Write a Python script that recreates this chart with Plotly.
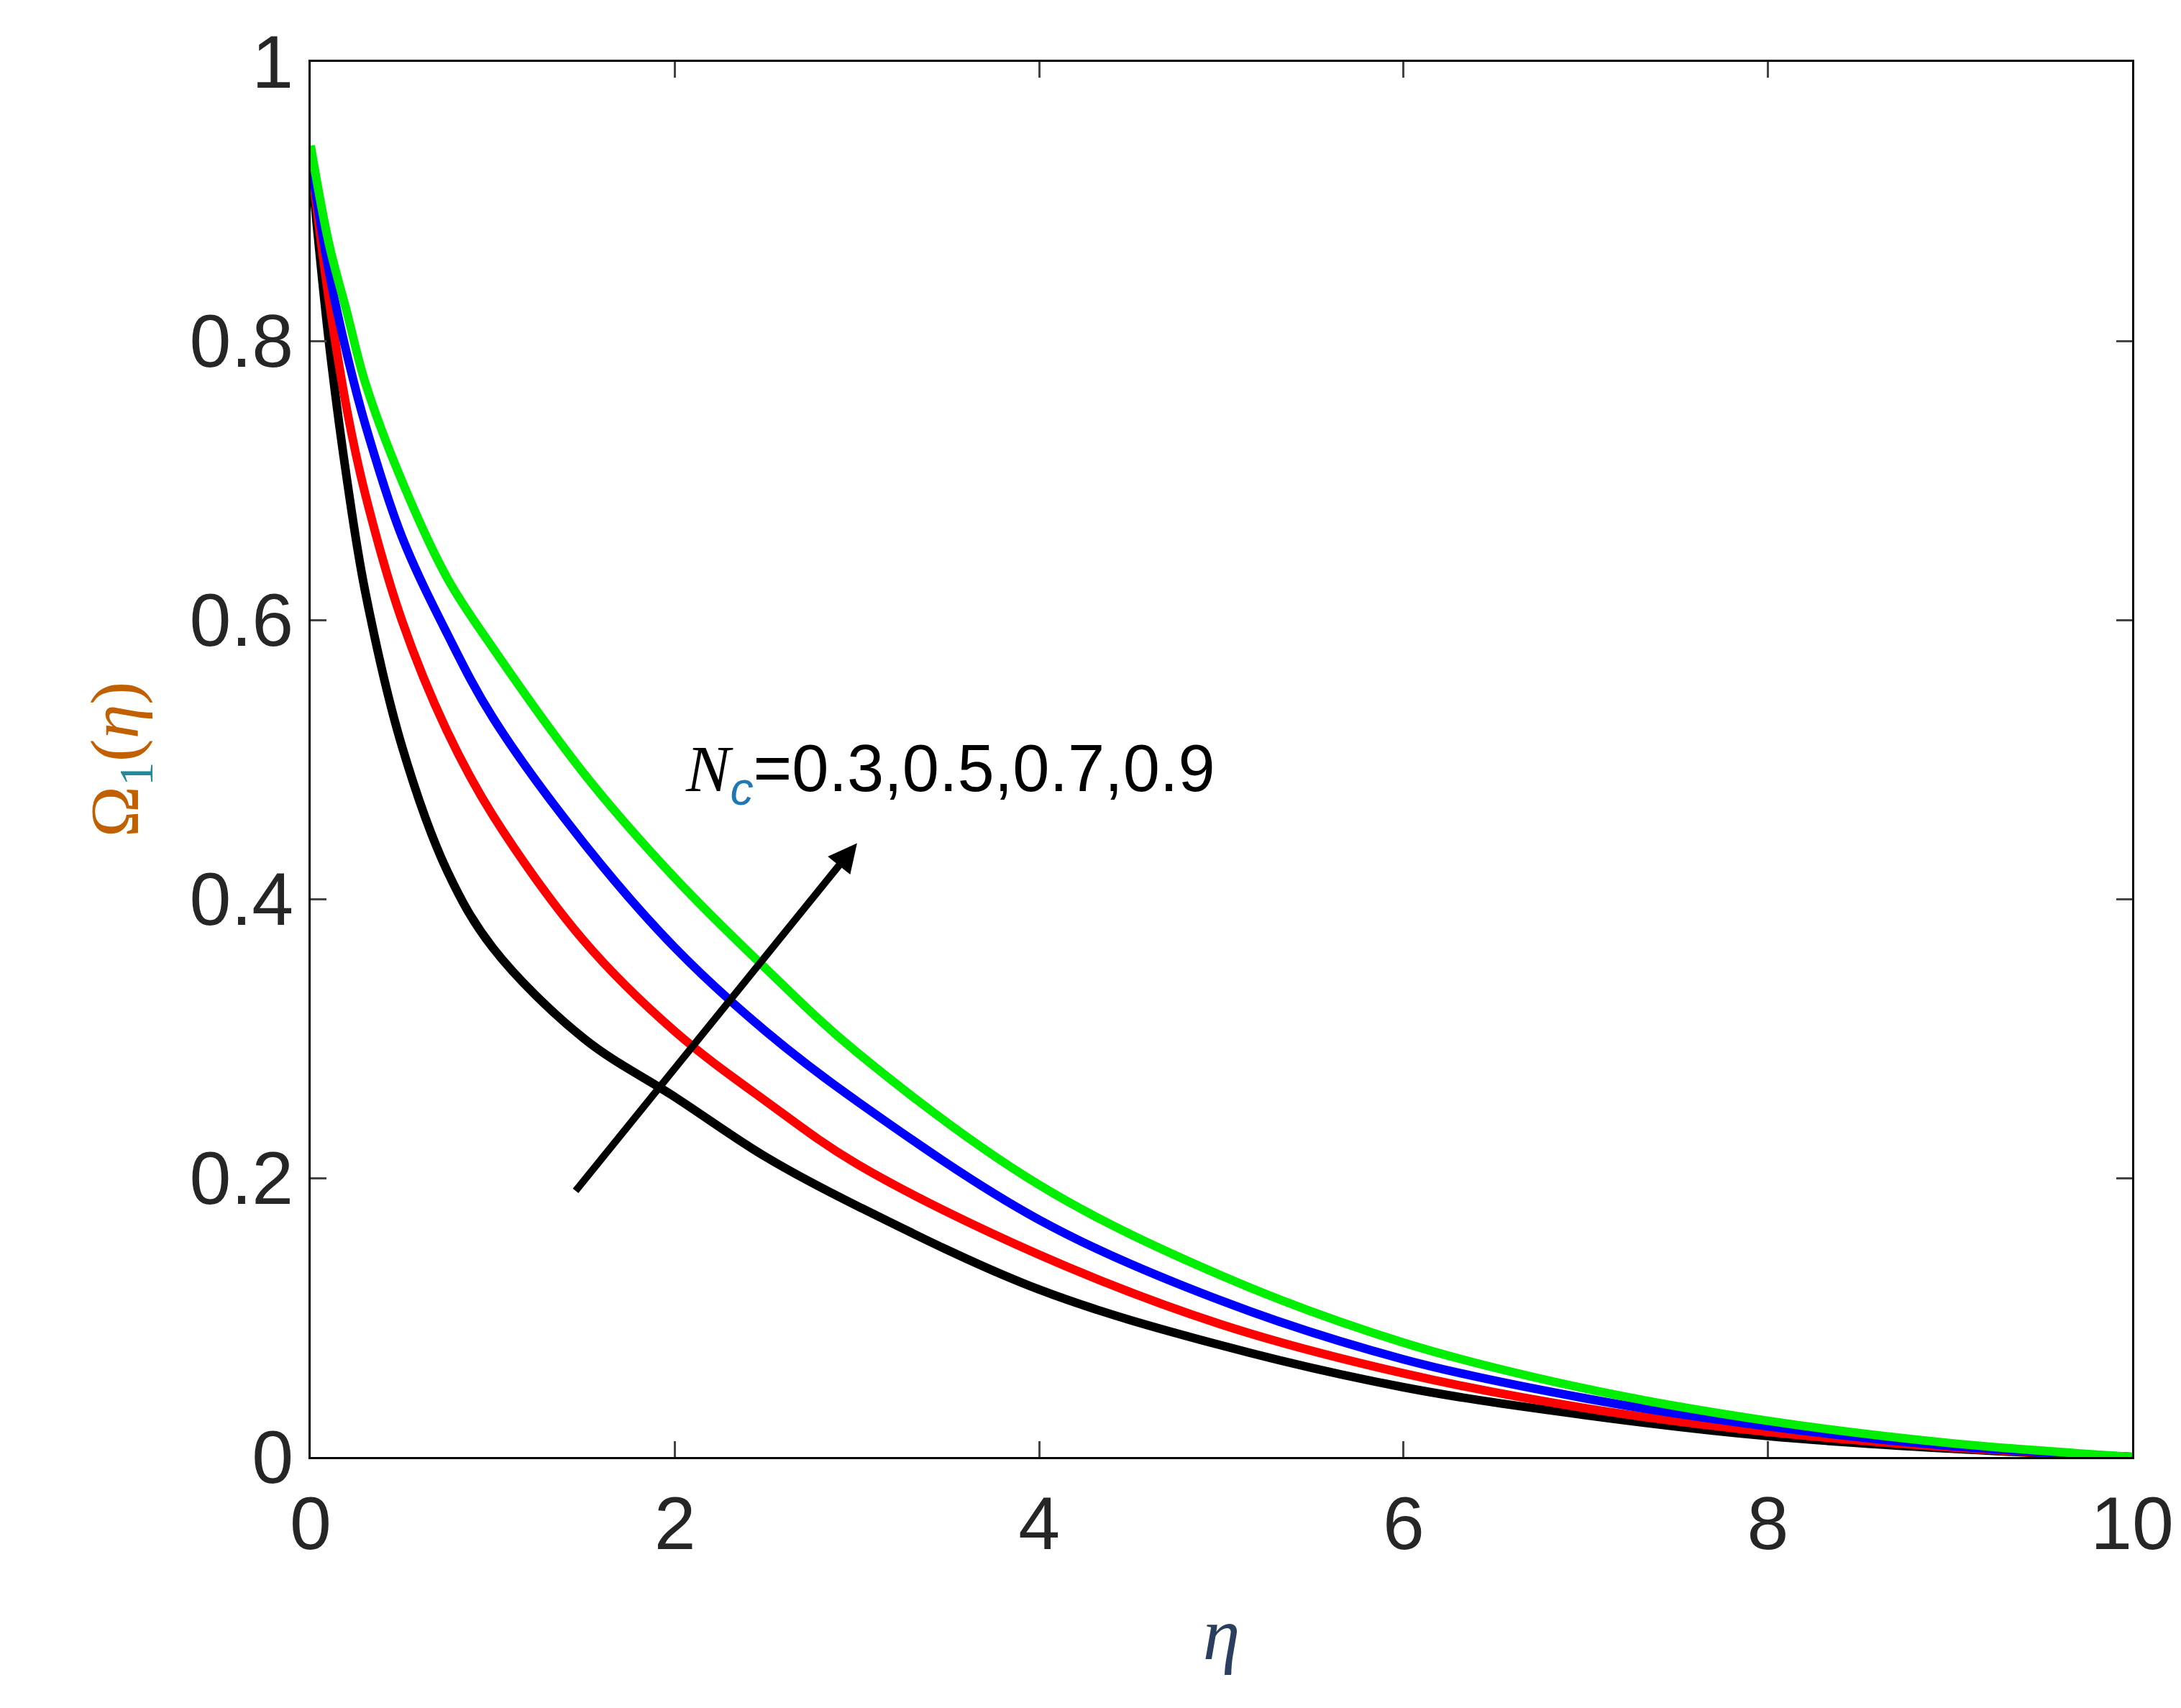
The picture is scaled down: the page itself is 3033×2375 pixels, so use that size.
import plotly.graph_objects as go

eta = [0, 0.1, 0.2, 0.3, 0.5, 0.75, 1, 1.5, 2, 2.5, 3, 4, 5, 6, 7, 8, 9, 10]
black = [0.93, 0.80, 0.70, 0.62, 0.51, 0.42, 0.365, 0.30, 0.258, 0.215, 0.18, 0.12, 0.08, 0.05, 0.03, 0.015, 0.006, 0.0]
red   = [0.93, 0.83, 0.75, 0.69, 0.60, 0.52, 0.46, 0.37, 0.305, 0.255, 0.21, 0.145, 0.095, 0.06, 0.035, 0.018, 0.007, 0.0]
blue  = [0.93, 0.85, 0.79, 0.74, 0.66, 0.59, 0.53, 0.44, 0.365, 0.305, 0.255, 0.17, 0.112, 0.07, 0.042, 0.022, 0.008, 0.0]
green = [0.94, 0.87, 0.82, 0.77, 0.70, 0.63, 0.58, 0.49, 0.415, 0.35, 0.29, 0.195, 0.13, 0.082, 0.049, 0.026, 0.01, 0.0]
series = [("black", black), ("red", red), ("blue", blue), ("#00ee00", green)]

fig = go.Figure()
for c, y in series:
    fig.add_trace(go.Scatter(x=eta, y=y, mode="lines", line=dict(color=c, width=12, shape="spline", smoothing=1.0), showlegend=False))

fig.add_annotation(x=3.0, y=0.44, ax=1.45, ay=0.19, xref="x", yref="y", axref="x", ayref="y",
                   showarrow=True, arrowhead=2, arrowsize=0.8, arrowwidth=10, arrowcolor="black", text="")
fig.add_annotation(x=2.05, y=0.49, xref="x", yref="y", xanchor="left", showarrow=False,
                   text="<i><span style='font-family:Liberation Serif'>N</span><sub style='color:#1f77b4'>c</sub></i>=0.3,0.5,0.7,0.9",
                   font=dict(size=92, color="black", family="Liberation Sans"))

ax = dict(showline=True, linecolor="black", linewidth=3, mirror="ticks", ticks="inside", ticklen=22, tickwidth=3,
          showgrid=False, zeroline=False, tickfont=dict(size=104, color="#262626", family="Liberation Sans"))
fig.update_xaxes(range=[0, 10], dtick=2, title=dict(text="<i>η</i>", font=dict(size=104, family="Liberation Serif"), standoff=60), **ax)
fig.update_yaxes(range=[0, 1], tickvals=[0, 0.2, 0.4, 0.6, 0.8, 1], ticktext=["0", "0.2", "0.4", "0.6", "0.8", "1"],
                 title=dict(text="<span style='color:#c06000'>Ω</span><sub style='color:#1f8a9a'>1</sub><span style='color:#c06000'>(<i>η</i>)</span>",
                            font=dict(size=96, family="Liberation Serif"), standoff=40), **ax)
fig.update_layout(width=3033, height=2375, paper_bgcolor="white", plot_bgcolor="white",
                  margin=dict(l=424, r=76, t=78, b=357))
fig.write_html("out.html")
